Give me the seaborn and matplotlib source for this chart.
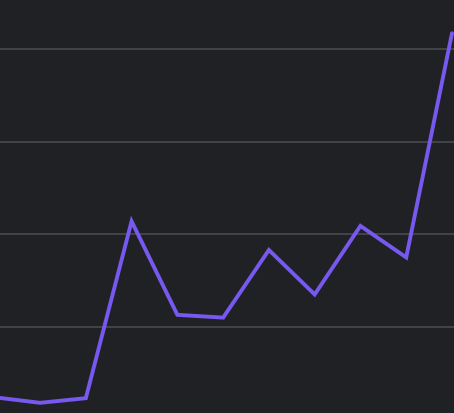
import numpy as np
import pandas as pd
import matplotlib
matplotlib.use("Agg")
import matplotlib.pyplot as plt
import seaborn as sns

# values
steps = [0, 1, 2, 3, 4, 5, 6, 7, 8, 9, 10]
values = [24, 18, 23, 214, 113, 110, 183, 135, 209, 175, 417]
grid_levels = [100, 200, 300, 400]

df = pd.DataFrame({'step': steps, 'value': values})

sns.set_style("dark")
fig = plt.figure(figsize=(4.54, 4.14), dpi=100, facecolor='#202125')
ax = fig.add_axes([0, 0, 1, 1])
ax.set_facecolor('#202125')

for g in grid_levels:
    ax.axhline(g, color='#4a4b4f', lw=1.2, zorder=1)

sns.lineplot(data=df, x='step', y='value', ax=ax, color='#7759f0', lw=2.8,
             zorder=3, solid_joinstyle='miter')

ax.set_xlim(0.125, 10.044)
ax.set_ylim(7, 454)
ax.set_xlabel('')
ax.set_ylabel('')
ax.set_xticks([])
ax.set_yticks([])
for s in ax.spines.values():
    s.set_visible(False)

fig.savefig('out.png', dpi=100, facecolor='#202125')
